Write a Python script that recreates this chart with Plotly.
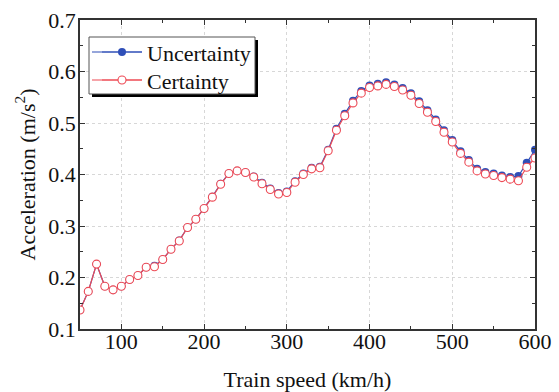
import plotly.graph_objects as go

speed = [50, 60, 70, 80, 90, 100, 110, 120, 130, 140, 150, 160, 170, 180, 190,
         200, 210, 220, 230, 240, 250, 260, 270, 280, 290, 300, 310, 320, 330,
         340, 350, 360, 370, 380, 390, 400, 410, 420, 430, 440, 450, 460, 470,
         480, 490, 500, 510, 520, 530, 540, 550, 560, 570, 580, 590, 600]

certainty = [0.137, 0.173, 0.226, 0.183, 0.176, 0.183, 0.196, 0.204, 0.220, 0.221,
             0.235, 0.255, 0.271, 0.297, 0.313, 0.334, 0.356, 0.381, 0.402, 0.407,
             0.404, 0.395, 0.382, 0.371, 0.362, 0.365, 0.385, 0.400, 0.411, 0.413,
             0.446, 0.486, 0.514, 0.539, 0.558, 0.569, 0.572, 0.575, 0.571, 0.564,
             0.554, 0.538, 0.521, 0.503, 0.482, 0.463, 0.441, 0.424, 0.407, 0.401,
             0.398, 0.394, 0.391, 0.388, 0.414, 0.432]

uncertainty = [0.137, 0.173, 0.226, 0.183, 0.176, 0.183, 0.196, 0.204, 0.220, 0.223,
               0.235, 0.255, 0.272, 0.297, 0.313, 0.334, 0.357, 0.382, 0.402, 0.407,
               0.404, 0.396, 0.384, 0.373, 0.364, 0.367, 0.387, 0.402, 0.413, 0.415,
               0.448, 0.489, 0.518, 0.543, 0.562, 0.573, 0.576, 0.579, 0.575, 0.568,
               0.558, 0.542, 0.525, 0.507, 0.486, 0.467, 0.445, 0.428, 0.411, 0.405,
               0.402, 0.398, 0.395, 0.397, 0.423, 0.448]

BLUE = "#2f4fb8"
RED = "#ee4a55"
FONT = "Liberation Serif"
TXT = "#111111"

# plot area in pixels
L, R, T, B = 80, 535, 20, 329
W, H = R - L, B - T


def px(x):
    return (x - L) / W


def py(y):
    return 1 - (y - T) / H


fig = go.Figure()
fig.add_trace(go.Scatter(
    x=speed, y=uncertainty, name="Uncertainty", mode="lines+markers",
    line=dict(color=BLUE, width=1.2), legend="legend",
    marker=dict(symbol="circle", size=8, color=BLUE, line=dict(width=0)),
))
fig.add_trace(go.Scatter(
    x=speed, y=certainty, name="Certainty", mode="lines+markers",
    line=dict(color=RED, width=1.2), legend="legend2",
    marker=dict(symbol="circle", size=8, color="white", line=dict(color=RED, width=1.1)),
))

axis_common = dict(
    showline=True, linecolor="#333333", linewidth=1.5, mirror="ticks",
    ticks="inside", ticklen=5, tickwidth=1, tickcolor="#333333",
    showgrid=True, gridcolor="rgb(215,215,215)", griddash="dot", gridwidth=1,
    zeroline=False, automargin=False,
    tickfont=dict(family=FONT, size=22, color=TXT),
)

fig.update_xaxes(
    range=[50, 600], tick0=0, dtick=100, ticklabelstandoff=-8,
    minor=dict(ticks="inside", ticklen=3, dtick=50, tick0=0, tickcolor="#333333", showgrid=False),
    title=dict(text="Train speed (km/h)", font=dict(family=FONT, size=22, color=TXT), standoff=20),
    **axis_common,
)
fig.update_yaxes(
    range=[0.1, 0.7], tick0=0.1, dtick=0.1, tickformat=".1f", ticklabelstandoff=-2,
    minor=dict(ticks="inside", ticklen=3, dtick=0.05, tick0=0.1, tickcolor="#333333", showgrid=False),
    title=dict(text="Acceleration (m/s<sup>2</sup>)", font=dict(family=FONT, size=22, color=TXT), standoff=7),
    **axis_common,
)

# legend frame with drop shadow
fig.add_shape(type="rect", xref="paper", yref="paper",
              x0=px(92), x1=px(258), y0=py(97), y1=py(40),
              fillcolor="black", line=dict(width=0), layer="above")
fig.add_shape(type="rect", xref="paper", yref="paper",
              x0=px(89), x1=px(255), y0=py(94), y1=py(37),
              fillcolor="white", line=dict(color="#555555", width=1), layer="above")
# longer legend sample lines (aligned with legend item centres: top + 20.8)
fig.add_shape(type="line", xref="paper", yref="paper",
              x0=px(92), x1=px(142), y0=py(52.0), y1=py(52.0),
              line=dict(color=BLUE, width=1.2), layer="above")
fig.add_shape(type="line", xref="paper", yref="paper",
              x0=px(92), x1=px(142), y0=py(80.0), y1=py(80.0),
              line=dict(color=RED, width=1.2), layer="above")

leg_common = dict(
    xanchor="left", yanchor="top",
    bgcolor="rgba(0,0,0,0)", borderwidth=0,
    font=dict(family=FONT, size=22, color=TXT),
    tracegroupgap=0, itemwidth=40,
)

fig.update_layout(
    width=559, height=392,
    margin=dict(l=L, r=559 - R, t=T, b=392 - B),
    paper_bgcolor="white", plot_bgcolor="white",
    font=dict(family=FONT, color=TXT),
    showlegend=True,
    legend=dict(x=px(97), y=py(31.2), **leg_common),
    legend2=dict(x=px(97), y=py(59.2), **leg_common),
)

fig.write_html("out.html")
